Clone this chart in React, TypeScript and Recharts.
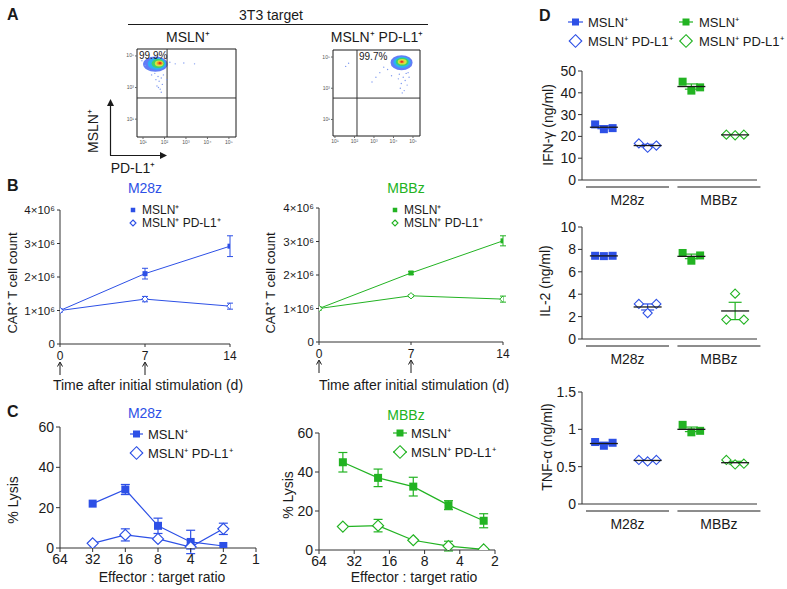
import React from "react";
import { LineChart, Line, ScatterChart, Scatter, XAxis, YAxis, ErrorBar, ReferenceLine, ReferenceArea } from "recharts";

const BLUE = "#2d50e6";
const GREEN = "#22b322";
const INK = "#1a1a1a";
const FONT = "'Liberation Sans', Arial, Helvetica, sans-serif";

// ---- A: flow plots (log10 units) ----
const flowLevelColors = ["#2d52f4", "#27b7f2", "#3fd65a", "#e6e43c", "#f28a2a", "#e3241c"];
const flowLeftLevels = [
  [1.0, 2.15, 4.0, 4.97],
  [1.22, 2.07, 4.12, 4.88],
  [1.4, 2.0, 4.24, 4.8],
  [1.55, 1.95, 4.34, 4.72],
  [1.65, 1.91, 4.42, 4.66],
  [1.72, 1.86, 4.47, 4.61],
];
const flowRightLevels = [
  [3.85, 4.98, 4.15, 5.12],
  [4.0, 4.88, 4.3, 5.02],
  [4.12, 4.78, 4.42, 4.95],
  [4.22, 4.68, 4.52, 4.88],
  [4.3, 4.56, 4.6, 4.8],
  [4.36, 4.49, 4.64, 4.76],
];
const flowLeftDots = [[1.55, 3.9], [1.7, 3.7], [1.85, 3.6], [1.75, 3.4], [1.9, 3.2], [1.65, 3.1], [1.8, 2.9], [1.95, 3.8], [1.6, 3.5], [1.85, 2.7], [1.4, 3.8], [1.3, 4.1], [1.1, 4.4], [0.95, 4.7], [2.25, 4.6], [2.5, 4.5], [2.9, 4.55], [3.4, 4.5], [2.1, 3.5], [1.72, 3.0]];
const flowRightDots = [[4.3, 3.9], [4.5, 3.7], [4.6, 3.5], [4.4, 3.3], [4.7, 3.2], [4.35, 3.0], [4.55, 2.85], [4.65, 3.95], [4.25, 3.6], [4.8, 3.7], [3.9, 3.8], [3.7, 4.2], [3.5, 4.35], [3.3, 4.0], [3.1, 3.7], [2.9, 3.4], [1.7, 4.6], [1.55, 4.4], [4.45, 2.7], [4.75, 4.0]];
const flowXTicks = [1, 2, 3, 4, 5];
const flowYTicks = [0, 1, 2, 3, 4, 5];
const supDigits = ["⁰", "¹", "²", "³", "⁴", "⁵", "⁶"];

// ---- B: CAR T cell expansion ----
const days = [0, 7, 14];
const arrowDays = [0, 7];
const m28zMsln = [1.0e6, 2.1e6, 2.92e6];
const m28zMslnErr = [0, 0.16e6, 0.31e6];
const m28zPdl1 = [1.0e6, 1.34e6, 1.13e6];
const m28zPdl1Err = [0, 0.08e6, 0.09e6];
const mbbzMsln = [1.0e6, 2.06e6, 3.02e6];
const mbbzMslnErr = [0, 0.04e6, 0.15e6];
const mbbzPdl1 = [1.0e6, 1.38e6, 1.28e6];
const mbbzPdl1Err = [0, 0.03e6, 0.09e6];
const countTicks = [0, 1e6, 2e6, 3e6, 4e6];

// ---- C: lysis ----
const m28zRatios = [32, 16, 8, 4, 2];
const m28zLysisMsln = [22, 29, 11, 3, 1];
const m28zLysisMslnErr = [0, 2.5, 3.8, 5.8, 0];
const m28zLysisPdl1 = [2.3, 6.5, 4.5, 0.5, 9.5];
const m28zLysisPdl1Err = [0, 3, 0, 1, 2.8];
const mbbzRatios = [40, 20, 10, 5, 2.5];
const mbbzLysisMsln = [45, 37, 32.5, 23, 15];
const mbbzLysisMslnErr = [5, 4.5, 4.8, 2.3, 3.6];
const mbbzLysisPdl1 = [12, 12.5, 5, 2, 0.3];
const mbbzLysisPdl1Err = [0, 3.2, 0, 2.5, 0];
const m28zRatioTicks = [64, 32, 16, 8, 4, 2, 1];
const mbbzRatioTicks = [64, 32, 16, 8, 4, 2];
const lysisTicks = [0, 20, 40, 60];

// ---- D: cytokines (columns: M28z MSLN, M28z PD-L1, MBBz MSLN, MBBz PD-L1) ----
const groups = ["M28z", "MBBz"];
const groupTicks = [1.04, 3.13];
const columnX = [0.5, 1.5, 2.5, 3.5];
const jitter = [-0.2, 0, 0.2];
const ifng = [[25.5, 23.3, 23.8], [16.8, 14.8, 15.8], [45.1, 41.0, 42.5], [20.8, 20.5, 20.8]];
const il2 = [[7.43, 7.4, 7.43], [3.13, 2.32, 3.13], [7.68, 6.99, 7.46], [1.73, 4.05, 1.73]];
const tnf = [[0.83, 0.78, 0.82], [0.59, 0.57, 0.59], [1.06, 0.96, 0.98], [0.59, 0.53, 0.54]];
const ifngTicks = [0, 10, 20, 30, 40, 50];
const il2Ticks = [0, 2, 4, 6, 8, 10];
const tnfTicks = [0, 0.5, 1, 1.5];

const Sq = ({ cx, cy, s, color }: any) => (
  <rect x={cx - s / 2} y={cy - s / 2} width={s} height={s} fill={color} />
);
const Dia = ({ cx, cy, r, color, sw = 1.2 }: any) => (
  <path d={`M${cx},${cy - r}L${cx + r},${cy}L${cx},${cy + r}L${cx - r},${cy}Z`} fill="#fff" stroke={color} strokeWidth={sw} />
);

const CountTick = ({ x, y, payload }: any) => {
  const m = payload.value / 1e6;
  return (
    <text x={x} y={y} dy={4} textAnchor="end" fontSize={11.5} fill={INK}>
      {m === 0 ? "0" : `${m}×10⁶`}
    </text>
  );
};

const DayTick = ({ x, y, payload }: any) => (
  <g>
    <text x={x} y={y} dy={11} textAnchor="middle" fontSize={12} fill={INK}>{payload.value}</text>
    {arrowDays.includes(payload.value) && (
      <g stroke={INK} strokeWidth={1} fill="none">
        <line x1={x} x2={x} y1={y + 26} y2={y + 14} />
        <path d={`M${x - 2.5},${y + 17.5} L${x},${y + 13} L${x + 2.5},${y + 17.5}`} />
      </g>
    )}
  </g>
);

const FlowTick = ({ x, y, payload, axis }: any) => (
  <text x={x} y={y} dy={axis === "x" ? 4 : 1.5} textAnchor={axis === "x" ? "middle" : "end"} fontSize={5} fill="#555">
    {`10${supDigits[payload.value]}`}
  </text>
);

const GroupTick = ({ x, y, index }: any) => (
  <g>
    <line x1={x - 41.5} x2={x + 41.5} y1={y + 7} y2={y + 7} stroke={INK} strokeWidth={1} />
    <text x={x} y={y + 25} textAnchor="middle" fontSize={14} fill={INK}>{groups[index]}</text>
  </g>
);

function FlowPlot({ left, top, width, height, margin, yAxisWidth, xAxisHeight, xDomain, yDomain, levels, dots, gateX, gateY }: any) {
  const dotData = dots.map(([x, y]: number[]) => ({ x, y }));
  return (
    <div style={{ position: "absolute", left, top }}>
      <ScatterChart width={width} height={height} margin={margin}>
        <XAxis type="number" dataKey="x" domain={xDomain} ticks={flowXTicks} allowDataOverflow axisLine={false} tickSize={2} tickMargin={1} height={xAxisHeight} tick={(p: any) => <FlowTick {...p} axis="x" />} />
        <YAxis type="number" dataKey="y" domain={yDomain} ticks={flowYTicks} allowDataOverflow axisLine={false} tickSize={2} tickMargin={1} width={yAxisWidth} tick={(p: any) => <FlowTick {...p} axis="y" />} />
        <Scatter data={dotData} isAnimationActive={false} shape={(p: any) => <circle cx={p.cx} cy={p.cy} r={0.7} fill="#7f9af0" />} />
        {levels.map((l: number[], i: number) => (
          <ReferenceArea
            key={i}
            x1={l[0]}
            x2={l[1]}
            y1={l[2]}
            y2={l[3]}
            ifOverflow="visible"
            shape={(p: any) => (
              <ellipse cx={p.x + p.width / 2} cy={p.y + p.height / 2} rx={Math.abs(p.width) / 2} ry={Math.abs(p.height) / 2} fill={flowLevelColors[i]} fillOpacity={i === 0 ? 0.75 : 0.9} />
            )}
          />
        ))}
        <ReferenceLine x={gateX} stroke="#333" strokeWidth={1} />
        <ReferenceLine y={gateY} stroke="#333" strokeWidth={1} />
        <ReferenceArea x1={xDomain[0]} x2={xDomain[1]} y1={yDomain[0]} y2={yDomain[1]} fill="#fff" fillOpacity={0} stroke={INK} strokeWidth={1} />
      </ScatterChart>
    </div>
  );
}

function GrowthChart({ left, top, width, margin, yAxisWidth, xAxisHeight, msln, mslnErr, pdl1, pdl1Err, color }: any) {
  const data = days.map((d, i) => ({ day: d, a: msln[i], aErr: mslnErr[i], b: pdl1[i], bErr: pdl1Err[i] }));
  return (
    <div style={{ position: "absolute", left, top }}>
      <LineChart width={width} height={210} data={data} margin={margin}>
        <XAxis type="number" dataKey="day" domain={[0, 14]} ticks={days} allowDataOverflow height={xAxisHeight} tickSize={3} axisLine={{ stroke: "#333" }} tickLine={{ stroke: "#333" }} tick={DayTick} />
        <YAxis type="number" domain={[0, 4e6]} ticks={countTicks} allowDataOverflow width={yAxisWidth} tickSize={3} axisLine={{ stroke: "#333" }} tickLine={{ stroke: "#333" }} tick={CountTick} />
        <Line dataKey="a" stroke={color} strokeWidth={1} isAnimationActive={false} dot={(p: any) => <Sq key={`a${p.index}`} cx={p.cx} cy={p.cy} s={5} color={color} />}>
          <ErrorBar dataKey="aErr" width={3} stroke={color} strokeWidth={1} direction="y" />
        </Line>
        <Line dataKey="b" stroke={color} strokeWidth={1} isAnimationActive={false} dot={(p: any) => <Dia key={`b${p.index}`} cx={p.cx} cy={p.cy} r={3.2} color={color} sw={1} />}>
          <ErrorBar dataKey="bErr" width={3} stroke={color} strokeWidth={1} direction="y" />
        </Line>
      </LineChart>
    </div>
  );
}

function LysisChart({ left, top, width, margin, yAxisWidth, xAxisHeight, ratios, ratioTicks, msln, mslnErr, pdl1, pdl1Err, color }: any) {
  const data = ratios.map((r: number, i: number) => ({ ratio: r, a: msln[i], aErr: mslnErr[i], b: pdl1[i], bErr: pdl1Err[i] }));
  const dom = [ratioTicks[ratioTicks.length - 1], ratioTicks[0]];
  return (
    <div style={{ position: "absolute", left, top }}>
      <LineChart width={width} height={190} data={data} margin={margin}>
        <XAxis type="number" dataKey="ratio" scale="log" domain={dom} ticks={ratioTicks} reversed allowDataOverflow height={xAxisHeight} tickSize={4} axisLine={{ stroke: "#333" }} tickLine={{ stroke: "#333" }} tick={{ fontSize: 14, fill: INK }} />
        <YAxis type="number" domain={[0, 60]} ticks={lysisTicks} allowDataOverflow width={yAxisWidth} tickSize={4} axisLine={{ stroke: "#333" }} tickLine={{ stroke: "#333" }} tick={{ fontSize: 14, fill: INK }} />
        <Line dataKey="a" stroke={color} strokeWidth={1.2} isAnimationActive={false} dot={(p: any) => <Sq key={`a${p.index}`} cx={p.cx} cy={p.cy} s={8} color={color} />}>
          <ErrorBar dataKey="aErr" width={4.5} stroke={color} strokeWidth={1.2} direction="y" />
        </Line>
        <Line dataKey="b" stroke={color} strokeWidth={1.2} isAnimationActive={false} dot={(p: any) => <Dia key={`b${p.index}`} cx={p.cx} cy={p.cy} r={5.5} color={color} />}>
          <ErrorBar dataKey="bErr" width={4.5} stroke={color} strokeWidth={1.2} direction="y" />
        </Line>
      </LineChart>
    </div>
  );
}

const colColor = [BLUE, BLUE, GREEN, GREEN];
const colFilled = [true, false, true, false];

function CytokinePlot({ top, marginTop, xAxisHeight, values, yMax, yTicks }: any) {
  return (
    <div style={{ position: "absolute", left: 530, top }}>
      <ScatterChart width={240} height={170} margin={{ top: marginTop, right: 13, left: 0, bottom: 0 }}>
        <XAxis type="number" dataKey="x" domain={[0, 4]} ticks={groupTicks} allowDataOverflow height={xAxisHeight} axisLine={{ stroke: "#333" }} tickLine={false} tickSize={0} tickMargin={0} tick={GroupTick} />
        <YAxis type="number" dataKey="y" domain={[0, yMax]} ticks={yTicks} allowDataOverflow width={52} tickSize={4} axisLine={{ stroke: "#333" }} tickLine={{ stroke: "#333" }} tick={{ fontSize: 14, fill: INK }} />
        {values.map((vals: number[], c: number) => (
          <Scatter
            key={`p${c}`}
            data={vals.map((v, j) => ({ x: columnX[c] + jitter[j], y: v }))}
            isAnimationActive={false}
            shape={(p: any) => colFilled[c] ? <Sq cx={p.cx} cy={p.cy} s={8} color={colColor[c]} /> : <Dia cx={p.cx} cy={p.cy} r={4.6} color={colColor[c]} sw={1.1} />}
          />
        ))}
        {values.map((vals: number[], c: number) => {
          const mean = vals.reduce((s, v) => s + v, 0) / vals.length;
          const sd = Math.sqrt(vals.reduce((s, v) => s + (v - mean) ** 2, 0) / (vals.length - 1));
          return (
            <Scatter
              key={`m${c}`}
              data={[{ x: columnX[c], y: mean, err: sd / Math.sqrt(vals.length) }]}
              isAnimationActive={false}
              shape={(p: any) => <line x1={p.cx - 14} x2={p.cx + 14} y1={p.cy} y2={p.cy} stroke={INK} strokeWidth={1.3} />}
            >
              <ErrorBar dataKey="err" direction="y" width={6.5} stroke={colColor[c]} strokeWidth={1.2} />
            </Scatter>
          );
        })}
      </ScatterChart>
    </div>
  );
}

const VText = ({ x, y, size = 14, children }: any) => (
  <text x={x} y={y} transform={`rotate(-90 ${x} ${y})`} textAnchor="middle" dominantBaseline="central" fontSize={size}>{children}</text>
);

const LegendItem = ({ x, y, kind, color, line, s, textX, size, label }: any) => (
  <g>
    {line && <line x1={line[0]} x2={line[1]} y1={y} y2={y} stroke={color} strokeWidth={1.2} />}
    {kind === "sq" ? <Sq cx={x} cy={y} s={s} color={color} /> : <Dia cx={x} cy={y} r={s} color={color} sw={1.1} />}
    <text x={textX} y={y} dominantBaseline="central" fontSize={size} fill={INK}>{label}</text>
  </g>
);

export default function App() {
  return (
    <div style={{ position: "absolute", left: 0, top: 0, width: 787, height: 589, background: "#fff", fontFamily: FONT, overflow: "hidden" }}>
      <FlowPlot left={120} top={45} width={120} height={105} margin={{ top: 4, right: 4, left: 0, bottom: 0 }} yAxisWidth={17} xAxisHeight={13}
        xDomain={[0.72, 5.33]} yDomain={[-0.13, 5.44]} levels={flowLeftLevels} dots={flowLeftDots} gateX={2.12} gateY={2.34} />
      <FlowPlot left={315} top={45} width={110} height={105} margin={{ top: 5, right: 5, left: 0, bottom: 0 }} yAxisWidth={18} xAxisHeight={14}
        xDomain={[0.9, 5.36]} yDomain={[-0.06, 5.45]} levels={flowRightLevels} dots={flowRightDots} gateX={2.13} gateY={2.37} />

      <GrowthChart left={0} top={180} width={250} margin={{ top: 30, right: 20, left: 0, bottom: 0 }} yAxisWidth={60} xAxisHeight={46}
        msln={m28zMsln} mslnErr={m28zMslnErr} pdl1={m28zPdl1} pdl1Err={m28zPdl1Err} color={BLUE} />
      <GrowthChart left={260} top={180} width={260} margin={{ top: 28, right: 17, left: 0, bottom: 0 }} yAxisWidth={59} xAxisHeight={48}
        msln={mbbzMsln} mslnErr={mbbzMslnErr} pdl1={mbbzPdl1} pdl1Err={mbbzPdl1Err} color={GREEN} />

      <LysisChart left={0} top={400} width={270} margin={{ top: 27, right: 14, left: 0, bottom: 0 }} yAxisWidth={60} xAxisHeight={42}
        ratios={m28zRatios} ratioTicks={m28zRatioTicks} msln={m28zLysisMsln} mslnErr={m28zLysisMslnErr} pdl1={m28zLysisPdl1} pdl1Err={m28zLysisPdl1Err} color={BLUE} />
      <LysisChart left={260} top={400} width={250} margin={{ top: 33, right: 15, left: 0, bottom: 0 }} yAxisWidth={59} xAxisHeight={40}
        ratios={mbbzRatios} ratioTicks={mbbzRatioTicks} msln={mbbzLysisMsln} mslnErr={mbbzLysisMslnErr} pdl1={mbbzLysisPdl1} pdl1Err={mbbzLysisPdl1Err} color={GREEN} />

      <CytokinePlot top={50} marginTop={21} xAxisHeight={40} values={ifng} yMax={50} yTicks={ifngTicks} />
      <CytokinePlot top={205} marginTop={22} xAxisHeight={36} values={il2} yMax={10} yTicks={il2Ticks} />
      <CytokinePlot top={370} marginTop={22} xAxisHeight={36} values={tnf} yMax={1.5} yTicks={tnfTicks} />

      <svg width={787} height={589} style={{ position: "absolute", left: 0, top: 0, pointerEvents: "none" }}>
        <g fill={INK} fontFamily={FONT}>
          <text x={7} y={20} fontSize={16} fontWeight="bold">A</text>
          <text x={7} y={191} fontSize={16} fontWeight="bold">B</text>
          <text x={7} y={417} fontSize={16} fontWeight="bold">C</text>
          <text x={539} y={21} fontSize={16} fontWeight="bold">D</text>

          <text x={271} y={20} fontSize={14} textAnchor="middle">3T3 target</text>
          <line x1={128} x2={428} y1={24.5} y2={24.5} stroke={INK} strokeWidth={1} />
          <text x={188} y={42} fontSize={14} textAnchor="middle">MSLN⁺</text>
          <text x={377} y={42} fontSize={14} textAnchor="middle">MSLN⁺ PD-L1⁺</text>
          <text x={139} y={59} fontSize={10}>99.9%</text>
          <text x={359} y={60} fontSize={10}>99.7%</text>
          <g stroke={INK} strokeWidth={1.2} fill="none">
            <line x1={110.5} x2={110.5} y1={155.5} y2={102} />
            <line x1={110} x2={163} y1={155.5} y2={155.5} />
          </g>
          <path d="M107,106 L110.5,99 L114,106 Z" />
          <path d="M160,152 L167,155.5 L160,159 Z" />
          <VText x={93} y={131}>MSLN⁺</VText>
          <text x={133} y={173} fontSize={14} textAnchor="middle">PD-L1⁺</text>

          <text x={145} y={193} fontSize={14} textAnchor="middle" fill={BLUE}>M28z</text>
          <text x={406} y={193} fontSize={14} textAnchor="middle" fill={GREEN}>MBBz</text>
          <LegendItem x={133} y={210} kind="sq" color={BLUE} s={4.5} textX={142} size={12} label="MSLN⁺" />
          <LegendItem x={133} y={223} kind="dia" color={BLUE} s={3} textX={142} size={12} label="MSLN⁺ PD-L1⁺" />
          <LegendItem x={395} y={210} kind="sq" color={GREEN} s={4.5} textX={404} size={12} label="MSLN⁺" />
          <LegendItem x={395} y={223} kind="dia" color={GREEN} s={3} textX={404} size={12} label="MSLN⁺ PD-L1⁺" />
          <VText x={12} y={283} size={13}>CAR⁺ T cell count</VText>
          <VText x={270} y={283} size={13}>CAR⁺ T cell count</VText>
          <text x={148} y={390} fontSize={14} textAnchor="middle">Time after initial stimulation (d)</text>
          <text x={414} y={390} fontSize={14} textAnchor="middle">Time after initial stimulation (d)</text>

          <text x={145} y={418} fontSize={14} textAnchor="middle" fill={BLUE}>M28z</text>
          <text x={406} y={420} fontSize={14} textAnchor="middle" fill={GREEN}>MBBz</text>
          <LegendItem x={136.5} y={434} kind="sq" color={BLUE} s={7} line={[130, 143]} textX={148} size={13} label="MSLN⁺" />
          <LegendItem x={136.5} y={453} kind="dia" color={BLUE} s={6.3} line={[130, 143]} textX={148} size={13} label="MSLN⁺ PD-L1⁺" />
          <LegendItem x={400} y={433} kind="sq" color={GREEN} s={7} line={[393, 407]} textX={411} size={13} label="MSLN⁺" />
          <LegendItem x={400} y={452} kind="dia" color={GREEN} s={6.3} line={[393, 407]} textX={411} size={13} label="MSLN⁺ PD-L1⁺" />
          <VText x={13} y={500}>% Lysis</VText>
          <VText x={288} y={495}>% Lysis</VText>
          <text x={162} y={582} fontSize={14} textAnchor="middle">Effector : target ratio</text>
          <text x={414} y={582} fontSize={14} textAnchor="middle">Effector : target ratio</text>

          <LegendItem x={575.5} y={22} kind="sq" color={BLUE} s={7} line={[568, 583]} textX={588} size={13} label="MSLN⁺" />
          <LegendItem x={575.5} y={41} kind="dia" color={BLUE} s={6.3} line={null} textX={588} size={13} label="MSLN⁺ PD-L1⁺" />
          <LegendItem x={686} y={22} kind="sq" color={GREEN} s={7} line={[679, 693]} textX={699} size={13} label="MSLN⁺" />
          <LegendItem x={686} y={41} kind="dia" color={GREEN} s={6.3} line={null} textX={699} size={13} label="MSLN⁺ PD-L1⁺" />
          <VText x={548} y={125}>IFN-γ (ng/ml)</VText>
          <VText x={545} y={281}>IL-2 (ng/ml)</VText>
          <VText x={547} y={447}>TNF-α (ng/ml)</VText>
        </g>
      </svg>
    </div>
  );
}
